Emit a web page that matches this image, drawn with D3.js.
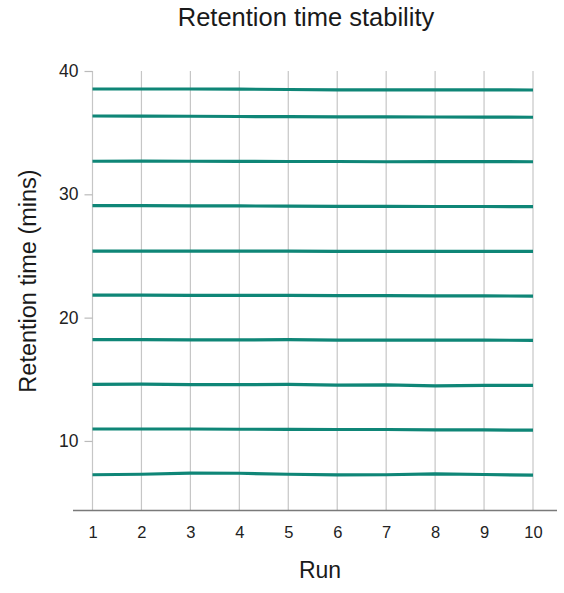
<!DOCTYPE html>
<html>
<head>
<meta charset="utf-8">
<script src="https://cdn.jsdelivr.net/npm/d3@7"></script>
<style>
  html, body { margin: 0; padding: 0; background: #fff; }
  svg { display: block; font-family: "Liberation Sans", Arial, Helvetica, sans-serif; }
</style>
</head>
<body>
<svg id="chart" width="564" height="593"></svg>
<script>
const runs = [1, 2, 3, 4, 5, 6, 7, 8, 9, 10];
const yTicks = [10, 20, 30, 40];

const peak1  = [38.54, 38.54, 38.54, 38.53, 38.50, 38.47, 38.47, 38.47, 38.47, 38.46];
const peak2  = [36.35, 36.34, 36.33, 36.31, 36.30, 36.28, 36.28, 36.27, 36.26, 36.25];
const peak3  = [32.68, 32.69, 32.68, 32.67, 32.66, 32.66, 32.64, 32.65, 32.65, 32.64];
const peak4  = [29.08, 29.08, 29.07, 29.06, 29.04, 29.02, 29.02, 29.01, 29.01, 29.00];
const peak5  = [25.40, 25.40, 25.40, 25.40, 25.39, 25.38, 25.38, 25.38, 25.38, 25.38];
const peak6  = [21.83, 21.82, 21.81, 21.81, 21.80, 21.79, 21.78, 21.77, 21.76, 21.75];
const peak7  = [18.21, 18.21, 18.20, 18.20, 18.21, 18.18, 18.17, 18.17, 18.17, 18.16];
const peak8  = [14.59, 14.60, 14.57, 14.57, 14.58, 14.52, 14.55, 14.47, 14.50, 14.50];
const peak9  = [10.97, 10.97, 10.97, 10.95, 10.94, 10.93, 10.93, 10.89, 10.89, 10.88];
const peak10 = [7.26, 7.30, 7.39, 7.38, 7.30, 7.25, 7.26, 7.33, 7.28, 7.23];

const series = [peak1, peak2, peak3, peak4, peak5, peak6, peak7, peak8, peak9, peak10];

const svg = d3.select("#chart");
const x = d3.scaleLinear().domain([1, 10]).range([92.5, 533]);
const y = d3.scaleLinear().domain([4.4, 40]).range([510, 71]);

// vertical gridlines
svg.append("g")
  .selectAll("line")
  .data(runs)
  .join("line")
  .attr("x1", d => x(d)).attr("x2", d => x(d))
  .attr("y1", y(40)).attr("y2", y(4.4))
  .attr("stroke", "#c6c6c6")
  .attr("stroke-width", 1.2);

// y axis
const yAxis = svg.append("g")
  .attr("transform", `translate(${x(1)},0)`)
  .call(d3.axisLeft(y).tickValues(yTicks).tickSize(8).tickPadding(6).tickFormat(d3.format("d")));
yAxis.select(".domain").remove();
yAxis.selectAll(".tick line").attr("stroke", "#bbbbbb").attr("stroke-width", 1.2);
yAxis.selectAll(".tick text")
  .attr("fill", "#222").style("font-size", "17.5px")
  .style("font-family", '"Liberation Sans", Arial, sans-serif');

// x axis
const xAxis = svg.append("g")
  .attr("transform", `translate(0,${y(4.4)})`)
  .call(d3.axisBottom(x).tickValues(runs).tickSize(0).tickPadding(16).tickFormat(d3.format("d")));
xAxis.select(".domain").remove();
xAxis.append("line")
  .attr("x1", 73).attr("x2", 557)
  .attr("y1", 0.5).attr("y2", 0.5)
  .attr("stroke", "#7a7a7a").attr("stroke-width", 1.5);
xAxis.selectAll(".tick text")
  .attr("fill", "#222").style("font-size", "16.5px")
  .style("font-family", '"Liberation Sans", Arial, sans-serif');

// lines
const line = d3.line()
  .x((d, i) => x(runs[i]))
  .y(d => y(d));

svg.append("g")
  .selectAll("path")
  .data(series)
  .join("path")
  .attr("d", line)
  .attr("fill", "none")
  .attr("stroke", "#0f8677")
  .attr("stroke-width", 3.2);

// title
svg.append("text")
  .attr("x", 306).attr("y", 26)
  .attr("text-anchor", "middle")
  .attr("fill", "#1a1a1a")
  .style("font-size", "25.5px")
  .text("Retention time stability");

// axis labels
svg.append("text")
  .attr("x", 320).attr("y", 578)
  .attr("text-anchor", "middle")
  .attr("fill", "#1a1a1a")
  .style("font-size", "23px")
  .text("Run");

svg.append("text")
  .attr("transform", "translate(36,281) rotate(-90)")
  .attr("text-anchor", "middle")
  .attr("fill", "#1a1a1a")
  .style("font-size", "23.5px")
  .text("Retention time (mins)");
</script>
</body>
</html>
